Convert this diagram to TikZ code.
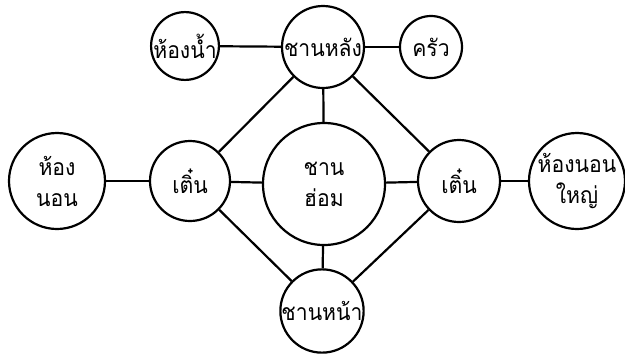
\documentclass[tikz,border=0pt]{standalone}
\usepackage{fontspec}
\newfontfamily\thaifont[Script=Thai,FakeStretch=0.92]{Loma}
\begin{document}
\begin{tikzpicture}[x=1pt,y=-1pt,
  room/.style={draw,circle,line width=2.2pt,inner sep=0pt,align=center,
    font=\thaifont\fontsize{23}{31}\selectfont},
  link/.style={line width=2.2pt}]
\useasboundingbox (0,0) rectangle (625,354);
\node[room,minimum size=64pt] (bath) at (185,46) {ห้องน้ำ};
\node[room,minimum size=82pt] (back) at (323,47) {ชานหลัง};
\node[room,minimum size=62pt] (kitchen) at (431,47) {ครัว};
\node[room,minimum size=96pt] (bedL) at (57,181) {ห้อง\\นอน};
\node[room,minimum size=80pt] (terL) at (190,181) {เติ๋น};
\node[room,minimum size=122pt] (hall) at (324,184) {ชาน\\ฮ่อม};
\node[room,minimum size=82pt] (terR) at (459,181) {เติ๋น};
\node[room,minimum size=96pt] (bedR) at (577,181) {ห้องนอน\\ใหญ่};
\node[room,minimum size=82pt] (front) at (322,311) {ชานหน้า};
\draw[link] (bath) -- (back);
\draw[link] (back) -- (kitchen);
\draw[link] (back) -- (hall);
\draw[link] (back) -- (terL);
\draw[link] (back) -- (terR);
\draw[link] (bedL) -- (terL);
\draw[link] (terL) -- (hall);
\draw[link] (hall) -- (terR);
\draw[link] (terR) -- (bedR);
\draw[link] (terL) -- (front);
\draw[link] (terR) -- (front);
\draw[link] (hall) -- (front);
\end{tikzpicture}
\end{document}
